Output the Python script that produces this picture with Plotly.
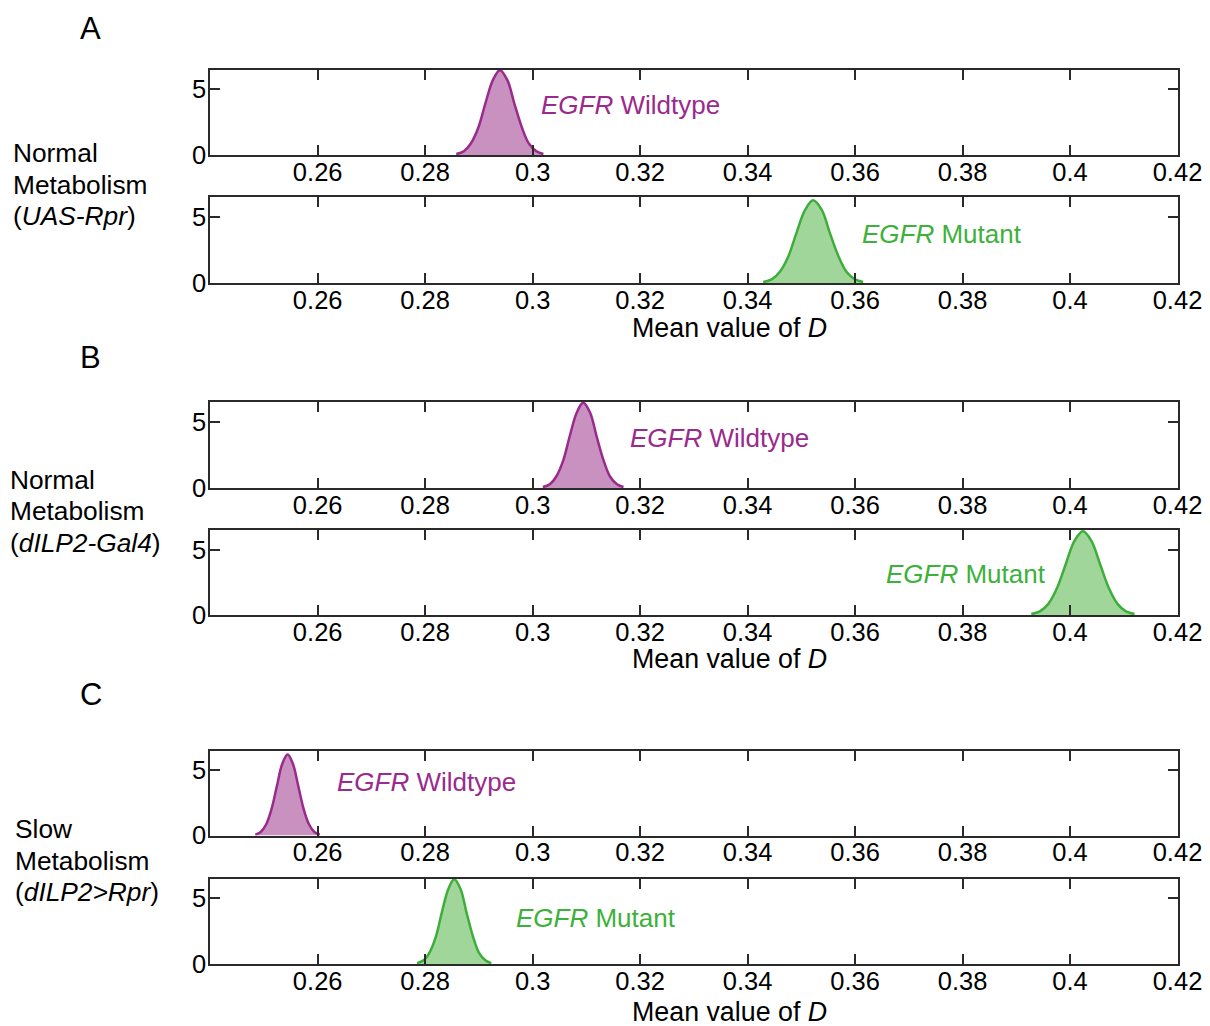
import plotly.graph_objects as go

# ---- data ----
x_ticks = [0.26, 0.28, 0.30, 0.32, 0.34, 0.36, 0.38, 0.40, 0.42]
x_tick_labels = ["0.26", "0.28", "0.3", "0.32", "0.34", "0.36", "0.38", "0.4", "0.42"]
y_ticks = [0, 5]
y_tick_labels = ["0", "5"]

# Panel A (UAS-Rpr)
a_wt_x = [0.2858, 0.2872, 0.2885, 0.2899, 0.2912, 0.2926, 0.2939, 0.2953, 0.2966, 0.2980, 0.2993, 0.3007, 0.3020]
a_wt_y = [0.07, 0.28, 0.87, 2.09, 3.91, 5.69, 6.45, 5.69, 3.91, 2.09, 0.87, 0.28, 0.07]
a_mut_x = [0.3429, 0.3445, 0.3460, 0.3476, 0.3491, 0.3507, 0.3522, 0.3538, 0.3553, 0.3569, 0.3584, 0.3600, 0.3615]
a_mut_y = [0.07, 0.27, 0.85, 2.03, 3.79, 5.52, 6.25, 5.52, 3.79, 2.03, 0.85, 0.27, 0.07]

# Panel B (dILP2-Gal4)
b_wt_x = [0.3019, 0.3032, 0.3044, 0.3057, 0.3069, 0.3082, 0.3094, 0.3107, 0.3119, 0.3132, 0.3144, 0.3157, 0.3169]
b_wt_y = [0.07, 0.28, 0.87, 2.09, 3.91, 5.69, 6.45, 5.69, 3.91, 2.09, 0.87, 0.28, 0.07]
b_mut_x = [0.3928, 0.3944, 0.3960, 0.3976, 0.3992, 0.4008, 0.4024, 0.4040, 0.4056, 0.4072, 0.4088, 0.4104, 0.4120]
b_mut_y = [0.07, 0.28, 0.87, 2.08, 3.88, 5.65, 6.40, 5.65, 3.88, 2.08, 0.87, 0.28, 0.07]

# Panel C (dILP2>Rpr)
c_wt_x = [0.2484, 0.2494, 0.2504, 0.2514, 0.2524, 0.2534, 0.2544, 0.2554, 0.2564, 0.2574, 0.2584, 0.2594, 0.2604]
c_wt_y = [0.07, 0.27, 0.84, 2.01, 3.76, 5.47, 6.20, 5.47, 3.76, 2.01, 0.84, 0.27, 0.07]
c_mut_x = [0.2785, 0.2797, 0.2808, 0.2820, 0.2831, 0.2843, 0.2854, 0.2866, 0.2877, 0.2889, 0.2900, 0.2912, 0.2923]
c_mut_y = [0.07, 0.28, 0.87, 2.09, 3.91, 5.69, 6.45, 5.69, 3.91, 2.09, 0.87, 0.28, 0.07]

series = [
    (a_wt_x, a_wt_y, "wt"), (a_mut_x, a_mut_y, "mut"),
    (b_wt_x, b_wt_y, "wt"), (b_mut_x, b_mut_y, "mut"),
    (c_wt_x, c_wt_y, "wt"), (c_mut_x, c_mut_y, "mut"),
]

# ---- style ----
W, H = 1210, 1026
FONT = "Liberation Sans, Arial, Helvetica, sans-serif"
AX = "#2a2a2a"
COL = {"wt": ("#9a2a8c", "rgba(200,145,192,1)"), "mut": ("#3dae3a", "rgba(160,214,154,1)")}
TXT = {"wt": "#9a2a8c", "mut": "#3db13a"}

def px(x):
    return x / W

def py(y):
    return 1 - y / H

# pixel rows (top, bottom) of each subplot, in page pixels
rows_px = [(69.5, 155), (197, 283), (402, 488), (530, 615), (750.5, 835.5), (878.5, 964)]
x_left_px, x_right_px = 210.2, 1177.5

fig = go.Figure()
layout = dict(
    width=W, height=H, autosize=False,
    margin=dict(l=0, r=0, t=0, b=0, pad=0),
    paper_bgcolor="white", plot_bgcolor="white",
    showlegend=False,
    font=dict(family=FONT, size=25, color="black"),
)

for i, (xs, ys, kind) in enumerate(series):
    n = i + 1
    line_c, fill_c = COL[kind]
    fig.add_trace(go.Scatter(
        x=xs, y=ys, mode="lines",
        line=dict(color=line_c, width=2.5, shape="spline", smoothing=1.0),
        fill="tozeroy", fillcolor=fill_c,
        xaxis=f"x{n}", yaxis=f"y{n}", hoverinfo="skip",
    ))
    top, bot = rows_px[i]
    xa = dict(
        domain=[px(x_left_px), px(x_right_px)], range=[0.24, 0.42],
        tickmode="array", tickvals=x_ticks, ticktext=x_tick_labels,
        ticks="inside", ticklen=10, tickwidth=1.6, tickcolor=AX,
        showline=True, linecolor=AX, linewidth=2, mirror="ticks",
        showgrid=False, zeroline=False, anchor=f"y{n}",
        automargin=False, ticklabelstandoff=-7, fixedrange=True,
        tickfont=dict(size=25.5, family=FONT, color="black"),
    )
    ya = dict(
        domain=[py(bot), py(top)], range=[0, 6.5],
        tickmode="array", tickvals=y_ticks, ticktext=y_tick_labels,
        ticks="inside", ticklen=10, tickwidth=1.6, tickcolor=AX,
        showline=True, linecolor=AX, linewidth=2, mirror="ticks",
        showgrid=False, zeroline=False, anchor=f"x{n}",
        automargin=False, ticklabelstandoff=-3, fixedrange=True,
        tickfont=dict(size=25.5, family=FONT, color="black"),
    )
    key = "" if n == 1 else str(n)
    layout[f"xaxis{key}"] = xa
    layout[f"yaxis{key}"] = ya

ann = []
def text(x, y, s, size=26, color="black", xanchor="left"):
    ann.append(dict(x=px(x), y=py(y), xref="paper", yref="paper", text=s,
                    showarrow=False, xanchor=xanchor, yanchor="middle",
                    font=dict(size=size, color=color, family=FONT)))

# panel letters
text(90, 28, "A", size=31, xanchor="center")
text(90, 358, "B", size=31, xanchor="center")
text(91, 694, "C", size=31, xanchor="center")

# row labels
for (x0, y0, lines) in [
    (11, 153, ["Normal", "Metabolism", "(<i>UAS-Rpr</i>)"]),
    (8, 480, ["Normal", "Metabolism", "(<i>dILP2-Gal4</i>)"]),
    (13, 829, ["Slow", "Metabolism", "(<i>dILP2>Rpr</i>)"]),
]:
    for j, s in enumerate(lines):
        text(x0, y0 + j * 31.5, s, size=26.3)

# series labels
text(539, 105, "<i>EGFR</i> Wildtype", color=TXT["wt"])
text(860, 234, "<i>EGFR</i> Mutant", color=TXT["mut"])
text(628, 438, "<i>EGFR</i> Wildtype", color=TXT["wt"])
text(884, 574, "<i>EGFR</i> Mutant", color=TXT["mut"])
text(335, 782, "<i>EGFR</i> Wildtype", color=TXT["wt"])
text(514, 918, "<i>EGFR</i> Mutant", color=TXT["mut"])

# axis titles
text(729, 328, "Mean value of <i>D</i>", size=26.8, xanchor="center")
text(729, 659, "Mean value of <i>D</i>", size=26.8, xanchor="center")
text(729, 1012, "Mean value of <i>D</i>", size=26.8, xanchor="center")

layout["annotations"] = ann
fig.update_layout(**layout)

page_css = (
    "document.documentElement.style.margin='0';"
    "document.documentElement.style.padding='0';"
    "document.documentElement.style.overflow='hidden';"
    "document.body.style.margin='0';"
    "document.body.style.padding='0';"
    "document.body.style.overflow='hidden';"
)
fig.write_html("out.html", post_script=page_css, config={"displayModeBar": False})
